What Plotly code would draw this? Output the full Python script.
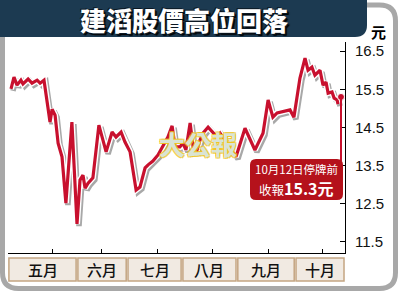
import plotly.graph_objects as go

# ---------------- data ----------------
days = [1.0, 2.0, 3.0, 4.3, 5.0, 6.7, 8.0, 9.7, 10.7, 12.0, 13.3, 14.0, 14.7, 15.7,
        16.7, 18.0, 19.3, 21.3, 23.0, 24.0, 25.0, 25.7, 26.7, 28.3, 30.3, 32.7, 34.7,
        36.0, 37.7, 39.0, 40.7, 42.7, 44.0, 45.7, 46.7, 48.3, 50.0, 51.3, 52.3, 53.3,
        54.7, 55.7, 57.3, 58.3, 59.3, 60.7, 61.7, 63.0, 64.0, 65.0, 66.7, 68.3, 69.7,
        70.7, 73.0, 74.0, 76.0, 79.0, 82.3, 85.0, 86.7, 88.3, 89.7, 94.0, 95.3, 97.3,
        99.0, 100.0, 101.3, 102.3, 104.0, 105.0, 106.0, 106.7, 108.0, 108.7, 109.7, 110.0]
prices = [15.51, 15.82, 15.61, 15.74, 15.64, 15.77, 15.66, 15.74, 15.66, 15.74, 15.03, 14.64,
          14.98, 14.82, 14.09, 13.73, 12.52, 14.64, 11.97, 13.12, 13.25, 12.91, 13.04, 13.18,
          14.56, 13.86, 14.38, 14.25, 14.38, 14.12, 13.86, 12.86, 12.94, 13.44, 13.52, 13.62,
          13.78, 13.96, 14.09, 14.25, 14.54, 13.99, 13.99, 14.09, 13.91, 14.62, 13.99, 13.91,
          14.17, 14.35, 14.51, 14.38, 14.25, 14.35, 14.09, 13.96, 13.73, 14.48, 13.91, 14.35,
          15.22, 14.77, 14.88, 14.96, 14.77, 15.79, 16.32, 16.00, 16.08, 15.87, 16.00, 15.61,
          15.69, 15.40, 15.43, 15.27, 15.22, 15.11]
last_day = 111.0
last_price = 15.3

months = ["五月", "六月", "七月", "八月", "九月", "十月"]
month_bounds = [0, 23, 39.7, 58, 76.3, 95.7, 112.3]
month_ticks = [14.7, 31.3, 49.7, 68, 86.7, 104.7]
y_ticks = [11.5, 12.5, 13.5, 14.5, 15.5, 16.5]
y_labels = ["11.5", "12.5", "13.5", "14.5", "15.5", "16.5"]

title = "建滔股價高位回落"
unit = "元"
note1 = "10月12日停牌前"
note2a = "收報"
note2b = "15.3元"
watermark = "大公報"

# ---------------- layout geometry ----------------
W, H = 400, 293
L, R, T, B = 8, 55, 42, 40
PW, PH = W - L - R, H - T - B
XR = [0, 112.33]
YR = [11.21, 16.74]
dx_px = (XR[1] - XR[0]) / PW
dy_px = (YR[1] - YR[0]) / PH


def px(x):
    return (x - L) / PW


def py(y):
    return (H - B - y) / PH


def rrect(x0, y0, x1, y1, r, corners="1111"):
    # pixel coords -> paper path; corners: tl, tr, br, bl
    tl, tr, br, bl = [c == "1" for c in corners]
    rx, ry = r / PW, r / PH
    X0, X1, Y0, Y1 = px(x0), px(x1), py(y0), py(y1)  # Y0 top (bigger)
    p = []
    p.append(f"M {X0 + (rx if tl else 0)},{Y0}")
    if tr:
        p.append(f"L {X1 - rx},{Y0} Q {X1},{Y0} {X1},{Y0 - ry}")
    else:
        p.append(f"L {X1},{Y0}")
    if br:
        p.append(f"L {X1},{Y1 + ry} Q {X1},{Y1} {X1 - rx},{Y1}")
    else:
        p.append(f"L {X1},{Y1}")
    if bl:
        p.append(f"L {X0 + rx},{Y1} Q {X0},{Y1} {X0},{Y1 + ry}")
    else:
        p.append(f"L {X0},{Y1}")
    if tl:
        p.append(f"L {X0},{Y0 - ry} Q {X0},{Y0} {X0 + rx},{Y0}")
    else:
        p.append(f"L {X0},{Y0}")
    p.append("Z")
    return " ".join(p)


RED = "#c8102e"
fig = go.Figure()

# shadow of the line (offset subplot)
fig.add_trace(go.Scatter(x=days, y=prices, mode="lines", xaxis="x2", yaxis="y2",
                         line=dict(color="rgba(110,110,110,0.6)", width=5.5),
                         hoverinfo="skip", showlegend=False))
# white outline + red line
fig.add_trace(go.Scatter(x=days, y=prices, mode="lines", xaxis="x3", yaxis="y3",
                         line=dict(color="white", width=6),
                         hoverinfo="skip", showlegend=False))
fig.add_trace(go.Scatter(x=days, y=prices, mode="lines", xaxis="x3", yaxis="y3",
                         line=dict(color=RED, width=3.2),
                         showlegend=False))
fig.add_trace(go.Scatter(x=[last_day], y=[last_price], mode="markers", xaxis="x3", yaxis="y3",
                         marker=dict(color=RED, size=7, line=dict(color="white", width=1)),
                         showlegend=False))

shapes = []
# outer grey frame
shapes.append(dict(type="path", xref="paper", yref="paper", layer="below",
                   path=rrect(2.5, 5, 395.5, 288.5, 16),
                   line=dict(color="#a8a8a8", width=5), fillcolor="white"))
# title banner
shapes.append(dict(type="path", xref="paper", yref="paper",
                   path=rrect(-2, -2, 367, 37, 12, corners="0010"),
                   line=dict(width=0), fillcolor="#1c3a51"))
# month tabs
for i in range(len(months)):
    shapes.append(dict(type="rect", xref="x", yref="paper",
                       x0=month_bounds[i] + 0.3, x1=month_bounds[i + 1] - 0.3,
                       y0=py(281), y1=py(258),
                       line=dict(color="#c4a582", width=1.5), fillcolor="#f1eae2"))
# callout line from last point to label box
shapes.append(dict(type="line", xref="x", yref="y",
                   x0=last_day, x1=last_day, y0=last_price, y1=YR[0] + (H - B - 161) * dy_px,
                   line=dict(color=RED, width=2)))
# label box
shapes.append(dict(type="path", xref="paper", yref="paper",
                   path=rrect(250, 159, 343, 200, 6),
                   line=dict(width=0), fillcolor="#b5121b"))

annotations = []
annotations.append(dict(xref="paper", yref="paper", x=px(184), y=py(19), text=title,
                        showarrow=False, xanchor="center", yanchor="middle",
                        font=dict(family="Noto Sans CJK TC", size=26, color="white", weight=900,
                                  shadow="1px 1px 0px #0b1722, -1px -1px 0 #0b1722, 2px 2px 1px #000")))
annotations.append(dict(xref="paper", yref="paper", x=px(378), y=py(32), text=f"<b>{unit}</b>",
                        showarrow=False, xanchor="center", yanchor="middle",
                        font=dict(family="Noto Sans CJK TC", size=15, color="black")))
for i, m in enumerate(months):
    annotations.append(dict(xref="x", yref="paper", x=(month_bounds[i] + month_bounds[i + 1]) / 2,
                            y=py(269.5), text=m, showarrow=False,
                            xanchor="center", yanchor="middle",
                            font=dict(family="Noto Sans CJK TC", size=15, color="#111111", weight=500)))
annotations.append(dict(xref="paper", yref="paper", x=px(296.5), y=py(160), text=note1,
                        showarrow=False, xanchor="center", yanchor="top", borderpad=0,
                        font=dict(family="Noto Sans CJK TC", size=11.5, color="white")))
annotations.append(dict(xref="paper", yref="paper", x=px(296.5), y=py(200.5),
                        text=f"{note2a}<b><span style='font-size:16px'>{note2b}</span></b>",
                        showarrow=False, xanchor="center", yanchor="bottom", borderpad=0,
                        font=dict(family="Noto Sans CJK TC", size=12.5, color="white")))
annotations.append(dict(xref="paper", yref="paper", x=px(198), y=py(143), text=watermark,
                        showarrow=False, xanchor="center", yanchor="middle",
                        font=dict(family="Noto Sans CJK TC", size=26, color="rgba(214,234,246,0.85)",
                                  weight=700,
                                  shadow="1px 1px 0 rgba(240,196,30,0.9), -1px -1px 0 rgba(240,196,30,0.9), "
                                         "1px -1px 0 rgba(240,196,30,0.9), -1px 1px 0 rgba(240,196,30,0.9)")))

ax_common = dict(fixedrange=True)
fig.update_layout(
    width=W, height=H, margin=dict(l=L, r=R, t=T, b=B),
    paper_bgcolor="white", plot_bgcolor="#d6eaf6",
    showlegend=False,
    xaxis=dict(range=XR, showgrid=False, zeroline=False, showline=True, linecolor="black",
               linewidth=1, ticks="inside", tickvals=month_ticks, ticklen=4, tickcolor="black",
               showticklabels=False, **ax_common),
    yaxis=dict(range=YR, side="right", showgrid=True, gridcolor="white", gridwidth=2,
               zeroline=False, showline=True, linecolor="black", linewidth=1,
               ticks="inside", ticklen=5, tickcolor="black",
               tickvals=y_ticks, ticktext=y_labels, ticklabelstandoff=6,
               tickfont=dict(family="Liberation Sans Narrow, Liberation Sans, Arial", size=15,
                             color="#111111"), **ax_common),
    xaxis2=dict(range=[XR[0] - 2 * dx_px, XR[1] - 2 * dx_px], overlaying="x", visible=False, **ax_common),
    yaxis2=dict(range=[YR[0] + 2 * dy_px, YR[1] + 2 * dy_px], overlaying="y", visible=False, **ax_common),
    xaxis3=dict(range=XR, overlaying="x", visible=False, **ax_common),
    yaxis3=dict(range=YR, overlaying="y", visible=False, **ax_common),
    shapes=shapes, annotations=annotations,
)

fig.write_html("out.html", config={"displayModeBar": False})
